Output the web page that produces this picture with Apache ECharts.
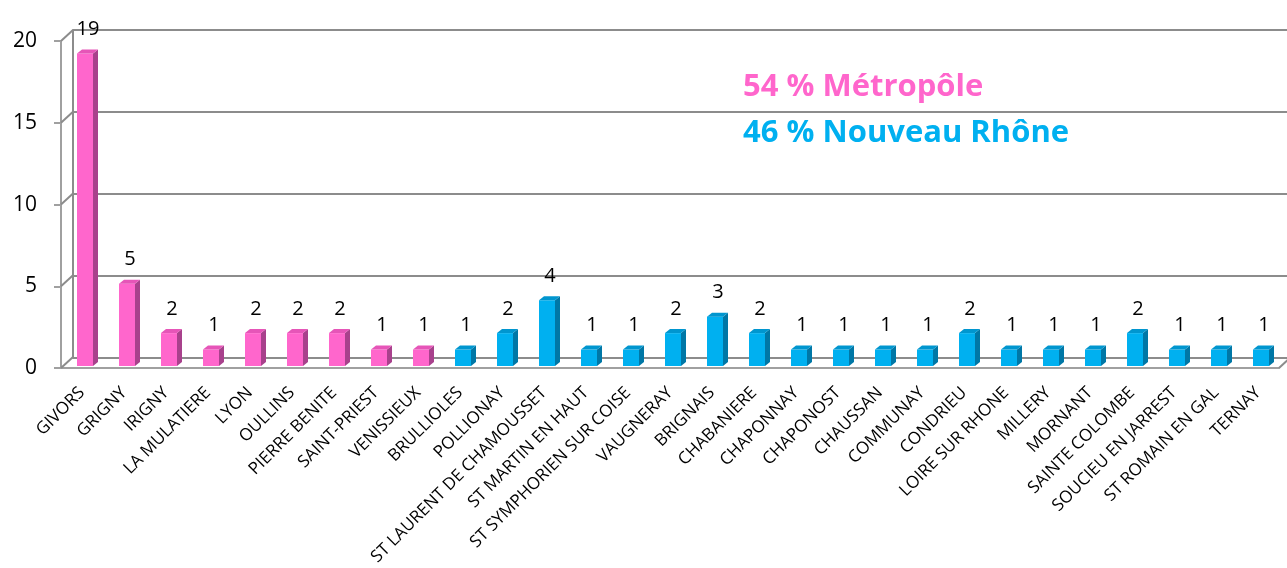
<!DOCTYPE html>
<html lang="fr">
<head>
<meta charset="UTF-8">
<title>Communes</title>
<script src="https://cdn.jsdelivr.net/npm/echarts@6/dist/echarts.min.js"></script>
<style>
    html, body { margin: 0; padding: 0; background: #fff; }
    #chart { width: 1287px; height: 568px; }
</style>
</head>
<body>
<div id="chart"></div>
<script>
    // communes de la Métropole
    var metropoleNames = ['GIVORS', 'GRIGNY', 'IRIGNY', 'LA MULATIERE', 'LYON', 'OULLINS', 'PIERRE BENITE', 'SAINT-PRIEST', 'VENISSIEUX'];
    var metropoleValues = [19, 5, 2, 1, 2, 2, 2, 1, 1];
    // communes du Nouveau Rhône
    var rhoneNames = ['BRULLIOLES', 'POLLIONAY', 'ST LAURENT DE CHAMOUSSET', 'ST MARTIN EN HAUT', 'ST SYMPHORIEN SUR COISE',
        'VAUGNERAY', 'BRIGNAIS', 'CHABANIERE', 'CHAPONNAY', 'CHAPONOST', 'CHAUSSAN', 'COMMUNAY', 'CONDRIEU',
        'LOIRE SUR RHONE', 'MILLERY', 'MORNANT', 'SAINTE COLOMBE', 'SOUCIEU EN JARREST', 'ST ROMAIN EN GAL', 'TERNAY'];
    var rhoneValues = [1, 2, 4, 1, 1, 2, 3, 2, 1, 1, 1, 1, 2, 1, 1, 1, 2, 1, 1, 1];
    var yTicks = [0, 5, 10, 15, 20];
    var legendLines = ['54 % Métropôle', '46 % Nouveau Rhône'];

    var categories = metropoleNames.concat(rhoneNames);
    var values = metropoleValues.concat(rhoneValues);
    var nbMetropole = metropoleNames.length;

    var pink = { front: '#ff66cc', side: '#a8418c', top: '#e655b8' };
    var blue = { front: '#00b0f0', side: '#0077a6', top: '#0096cf' };
    var lineColor = '#8c8c8c';
    var fontName = '"Open Sans", sans-serif';

    var chart = echarts.init(document.getElementById('chart'));

    // lignes obliques entre le plan avant et le fond
    function renderDepth(params, api) {
        var v = api.value(0);
        var p = api.coord([0, v]);
        var w = api.size([1, 0])[0];
        var x0 = p[0] - w / 2;
        var lines = [{
            type: 'line',
            shape: { x1: x0, y1: p[1], x2: x0 + 12, y2: p[1] - 11 },
            style: { stroke: lineColor, lineWidth: 2 }
        }];
        if (v === 0) {
            var q = api.coord([categories.length - 1, 0]);
            lines.push({
                type: 'line',
                shape: { x1: q[0] + w / 2, y1: q[1], x2: q[0] + w / 2 + 12, y2: q[1] - 11 },
                style: { stroke: lineColor, lineWidth: 2 }
            });
        }
        return { type: 'group', children: lines };
    }

    // barres en pseudo 3D
    function renderBar(params, api) {
        var i = api.value(0);
        var v = api.value(1);
        var top = api.coord([i, v]);
        var base = api.coord([i, 0]);
        var c = i < nbMetropole ? pink : blue;
        var bw = 16, dx = 5, dy = 4;
        var x = top[0] - bw / 2;
        return {
            type: 'group',
            children: [
                { type: 'rect', shape: { x: x, y: top[1], width: bw, height: base[1] - top[1] }, style: { fill: c.front } },
                { type: 'polygon', shape: { points: [[x + bw, top[1]], [x + bw + dx, top[1] - dy], [x + bw + dx, base[1] - dy], [x + bw, base[1]]] }, style: { fill: c.side } },
                { type: 'polygon', shape: { points: [[x, top[1]], [x + dx, top[1] - dy], [x + bw + dx, top[1] - dy], [x + bw, top[1]]] }, style: { fill: c.top } },
                { type: 'text', style: { x: top[0] + 3, y: top[1] - 24, text: String(v), font: '20px ' + fontName, fill: '#000', align: 'center', verticalAlign: 'middle' } }
            ]
        };
    }

    var option = {
        animation: false,
        grid: [
            { left: 73, top: 30, right: 0, bottom: 210 },   // fond
            { left: 61, top: 41, width: 1218, bottom: 199 }, // plan avant
            { left: 64, top: 37, width: 1218, bottom: 202 }  // barres
        ],
        xAxis: [
            { gridIndex: 0, type: 'category', data: categories, show: false },
            {
                gridIndex: 1, type: 'category', data: categories,
                axisLine: { lineStyle: { color: '#a0a0a0', width: 2 } },
                axisTick: { length: 6, lineStyle: { color: '#a0a0a0', width: 2 } },
                axisLabel: { interval: 0, rotate: 45, margin: 22, fontSize: 17, fontFamily: fontName, color: '#000' }
            },
            { gridIndex: 2, type: 'category', data: categories, show: false }
        ],
        yAxis: [
            {
                gridIndex: 0, type: 'value', min: 0, max: 20, interval: 5,
                axisLine: { show: true, lineStyle: { color: lineColor, width: 2 } },
                axisTick: { show: false }, axisLabel: { show: false },
                splitLine: { lineStyle: { color: lineColor, width: 2 } }
            },
            {
                gridIndex: 1, type: 'value', min: 0, max: 20, interval: 5,
                axisLine: { show: true, lineStyle: { color: '#a0a0a0', width: 2 } },
                axisTick: { show: true, length: 7, lineStyle: { color: '#a0a0a0', width: 2 } },
                axisLabel: { margin: 24, fontSize: 21, fontFamily: fontName, color: '#000' },
                splitLine: { show: false }
            },
            { gridIndex: 2, type: 'value', min: 0, max: 20, interval: 5, show: false, splitLine: { show: false } }
        ],
        graphic: [{
            type: 'group',
            left: 723, top: 62,
            z: 100,
            children: [
                { type: 'rect', shape: { x: 0, y: 0, width: 365, height: 92 }, style: { fill: '#fff' } },
                { type: 'text', style: { x: 20, y: 25, text: legendLines[0], font: 'bold 31px ' + fontName, fill: '#ff66cc', verticalAlign: 'middle' } },
                { type: 'text', style: { x: 20, y: 71, text: legendLines[1], font: 'bold 31px ' + fontName, fill: '#00b0f0', verticalAlign: 'middle' } }
            ]
        }],
        series: [
            {
                type: 'custom', xAxisIndex: 1, yAxisIndex: 1, silent: true,
                data: yTicks.map(function (v) { return [v]; }),
                encode: { y: 0 },
                renderItem: renderDepth
            },
            {
                type: 'custom', xAxisIndex: 2, yAxisIndex: 2, silent: true,
                data: values.map(function (v, i) { return [i, v]; }),
                encode: { x: 0, y: 1 },
                renderItem: renderBar
            }
        ]
    };
    chart.setOption(option);
</script>
</body>
</html>
